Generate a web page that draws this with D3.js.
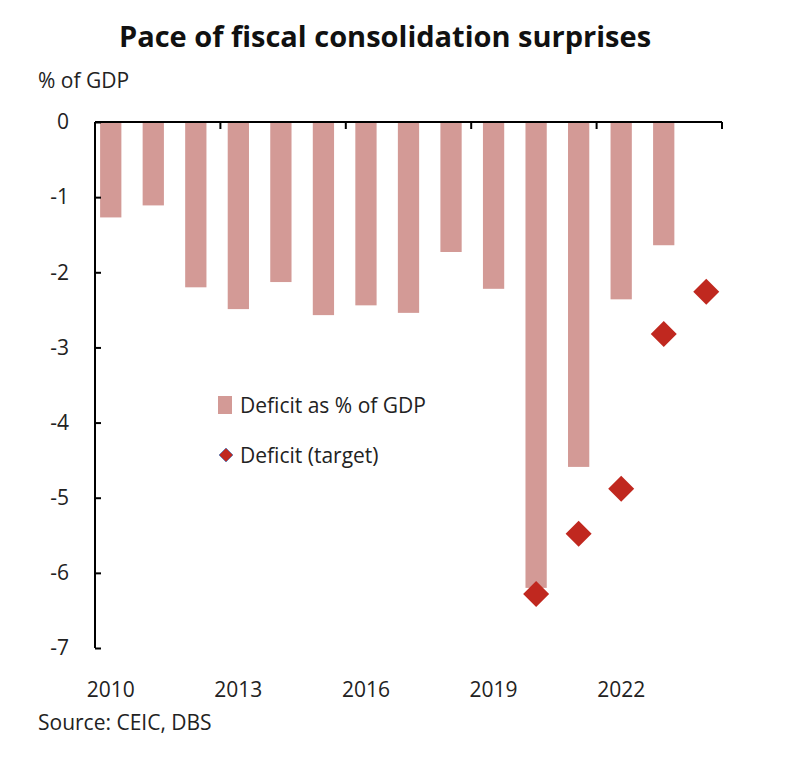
<!DOCTYPE html>
<html><head><meta charset="utf-8">
<script src="https://cdn.jsdelivr.net/npm/d3@7"></script>
<style>body{margin:0;background:#fff;font-family:"Open Sans",sans-serif;}</style>
</head><body><svg id="c" width="787" height="762"></svg>
<script>
const years = [2010,2011,2012,2013,2014,2015,2016,2017,2018,2019,2020,2021,2022,2023,2024];
const deficit = [-1.27,-1.11,-2.2,-2.49,-2.13,-2.57,-2.44,-2.54,-1.73,-2.22,-6.2,-4.59,-2.36,-1.64,null];
const targetYears = [2020,2021,2022,2023,2024];
const target = [-6.28,-5.48,-4.88,-2.82,-2.26];
const yTicks = [0,-1,-2,-3,-4,-5,-6,-7];
const xLabels = [2010,2013,2016,2019,2022];

const svg = d3.select('#c');
svg.append('rect').attr('width',787).attr('height',762).attr('fill','#fff');
const x = d3.scaleBand().domain(years).range([95,722]).paddingInner(0.5).paddingOuter(0.12);
const y = d3.scaleLinear().domain([-7,0]).range([648,122]);
const step = x.step();
const col = '#d39a96', red = '#c0281f';
const fs = 21;

svg.append('text').attr('x',385).attr('y',47).attr('text-anchor','middle')
  .attr('font-size',29).attr('font-weight','bold').attr('fill','#111').text('Pace of fiscal consolidation surprises');
svg.append('text').attr('x',38).attr('y',88).attr('font-size',fs).attr('fill','#222').text('% of GDP');

svg.selectAll('rect.bar').data(years.map((yr,i)=>({yr,v:deficit[i]})).filter(d=>d.v!=null))
  .enter().append('rect').attr('class','bar')
  .attr('x',d=>x(d.yr)).attr('width',x.bandwidth())
  .attr('y',y(0)).attr('height',d=>y(d.v)-y(0)).attr('fill',col);

const yAxis = d3.axisLeft(y).tickValues(yTicks).tickSize(6).tickFormat(d=>String(d));
const gy = svg.append('g').attr('transform','translate(95,0)').call(yAxis);
gy.selectAll('text').attr('font-size',fs).attr('font-family','Open Sans').attr('fill','#222').attr('x',-26);
gy.selectAll('line').attr('stroke','#000').attr('stroke-width',2).attr('x2',6);
gy.select('.domain').attr('stroke','#000').attr('stroke-width',2).attr('d','M0,122V648');

// x axis at zero, ticks every 3 years pointing down
const gx = svg.append('g');
gx.append('line').attr('x1',95).attr('x2',722).attr('y1',y(0)).attr('y2',y(0)).attr('stroke','#000').attr('stroke-width',2);
const bounds = d3.range(3,16,3).map(k=>x.range()[0]+k*(627/15));
gx.selectAll('line.t').data(bounds).enter().append('line').attr('class','t')
  .attr('x1',d=>d).attr('x2',d=>d).attr('y1',y(0)).attr('y2',y(0)+7).attr('stroke','#000').attr('stroke-width',2);
gx.selectAll('text').data(xLabels).enter().append('text')
  .attr('x',d=>x(d)+x.bandwidth()/2).attr('y',697).attr('text-anchor','middle')
  .attr('font-size',fs).attr('fill','#222').text(d=>d);

const dsz = 13;
svg.selectAll('path.dia').data(targetYears.map((yr,i)=>({yr,v:target[i]}))).enter().append('path')
  .attr('d',d=>{const cx=x(d.yr)+x.bandwidth()/2, cy=y(d.v);return `M${cx},${cy-dsz}L${cx+dsz},${cy}L${cx},${cy+dsz}L${cx-dsz},${cy}Z`;})
  .attr('fill',red);

// legend
svg.append('rect').attr('x',218).attr('y',396).attr('width',14).attr('height',18).attr('fill',col);
svg.append('text').attr('x',240).attr('y',413).attr('font-size',fs).attr('fill','#222').text('Deficit as % of GDP');
svg.append('path').attr('d','M226,448L233,455L226,462L219,455Z').attr('fill',red).attr('stroke','#5b7bb5').attr('stroke-width',0.8);
svg.append('text').attr('x',240).attr('y',463).attr('font-size',fs).attr('fill','#222').text('Deficit (target)');

svg.append('text').attr('x',38).attr('y',730).attr('font-size',fs).attr('fill','#222').text('Source: CEIC, DBS');
</script></body></html>
